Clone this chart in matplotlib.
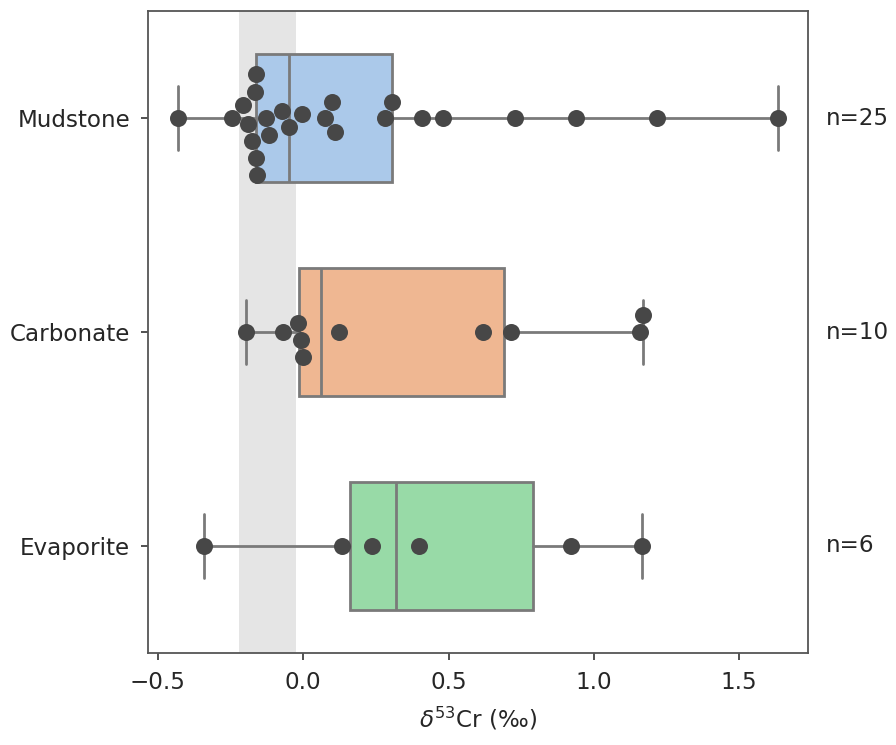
import numpy as np
import matplotlib
matplotlib.use('Agg')
import matplotlib.pyplot as plt
import seaborn as sns

# ---- data ----
categories = ['Mudstone', 'Carbonate', 'Evaporite']
mudstone = [-0.430, -0.246, -0.206, -0.189, -0.175, -0.166, -0.163, -0.163, -0.158,
            -0.129, -0.117, -0.074, -0.048, -0.005, 0.075, 0.100, 0.109, 0.281,
            0.304, 0.410, 0.482, 0.729, 0.938, 1.217, 1.633]
carbonate = [-0.197, -0.069, -0.018, -0.009, -0.002, 0.122, 0.618, 0.715, 1.160, 1.170]
evaporite = [-0.340, 0.134, 0.238, 0.400, 0.921, 1.166]
band_lo, band_hi = -0.22, -0.025
x_ticks = [-0.5, 0.0, 0.5, 1.0, 1.5]
xlabel = r'$\delta^{53}$Cr (‰)'

series = [mudstone, carbonate, evaporite]

sns.set_style('ticks')
plt.rcParams['font.family'] = ['DejaVu Sans']
plt.rcParams['mathtext.fontset'] = 'dejavusans'

fig = plt.figure(figsize=(8.96, 7.45), dpi=100)
ax = fig.add_axes([0.1655, 0.1235, 0.736, 0.8617])

pal = [sns.desaturate(c, 0.75) for c in sns.color_palette('pastel')[:3]]
gray = '#7a7a7a'
lw = 2.0
FS = 16.6

ax.axvspan(band_lo, band_hi, color='#e5e5e5', zorder=0, lw=0)

kw = dict(positions=[0, 1, 2], widths=0.6, whis=(0, 100), patch_artist=True,
          showfliers=False, manage_ticks=False,
          boxprops=dict(edgecolor=gray, linewidth=lw),
          whiskerprops=dict(color=gray, linewidth=lw),
          capprops=dict(color=gray, linewidth=lw),
          medianprops=dict(color=gray, linewidth=lw))
try:
    bp = ax.boxplot(series, orientation='horizontal', **kw)
except TypeError:
    bp = ax.boxplot(series, vert=False, **kw)
for patch, c in zip(bp['boxes'], pal):
    patch.set_facecolor(c)
    patch.set_zorder(1)
for k in ['whiskers', 'caps', 'medians']:
    for ln in bp[k]:
        ln.set_zorder(1.5)

ax.set_yticks([0, 1, 2])
ax.set_yticklabels(categories)
ax.set_ylim(2.5, -0.5)
ax.set_xlim(-0.533, 1.736)
ax.set_xticks(x_ticks)
ax.set_xticklabels(['\u22120.5', '0.0', '0.5', '1.0', '1.5'])


def beeswarm(vals, center, d_px):
    """Place points along the value axis, offsetting perpendicular (in pixels)
    to the nearest free spot, processing in increasing value order."""
    trans = ax.transData
    disp = trans.transform(np.column_stack([vals, np.full(len(vals), center)]))
    xs = disp[:, 0]
    yc = disp[0, 1]
    order = np.argsort(xs, kind='stable')
    placed = []
    dys = np.zeros(len(vals))
    for i in order:
        x = xs[i]
        cands = [0.0]
        for xj, dyj in placed:
            dx = abs(x - xj)
            if dx < d_px:
                h = np.sqrt(d_px ** 2 - dx ** 2)
                cands += [dyj + h, dyj - h]
        cands = sorted(cands, key=lambda c: (round(abs(c), 6), -c))
        for c in cands:
            ok = all((x - xj) ** 2 + (c - dyj) ** 2 >= d_px ** 2 - 1e-6
                     for xj, dyj in placed)
            if ok:
                break
        placed.append((x, c))
        dys[i] = c
    out = trans.inverted().transform(np.column_stack([xs, yc + dys]))
    return out[:, 0], out[:, 1]


for i, v in enumerate(series):
    px, py = beeswarm(np.asarray(v, float), i, 17.5)
    ax.scatter(px, py, s=150, color='#474747', linewidths=0, zorder=3)

ax.set_ylabel('')
ax.set_xlabel(xlabel, fontsize=FS, labelpad=8)
ax.tick_params(axis='both', labelsize=FS, length=5, width=1.2, pad=8, color='#333333')
for s in ax.spines.values():
    s.set_linewidth(1.3)
    s.set_color('#555555')

for i, v in enumerate(series):
    ax.text(1.80, i, f'n={len(v)}', fontsize=FS, va='center', ha='left',
            clip_on=False, color='#262626')

fig.savefig('out.png', dpi=100)
